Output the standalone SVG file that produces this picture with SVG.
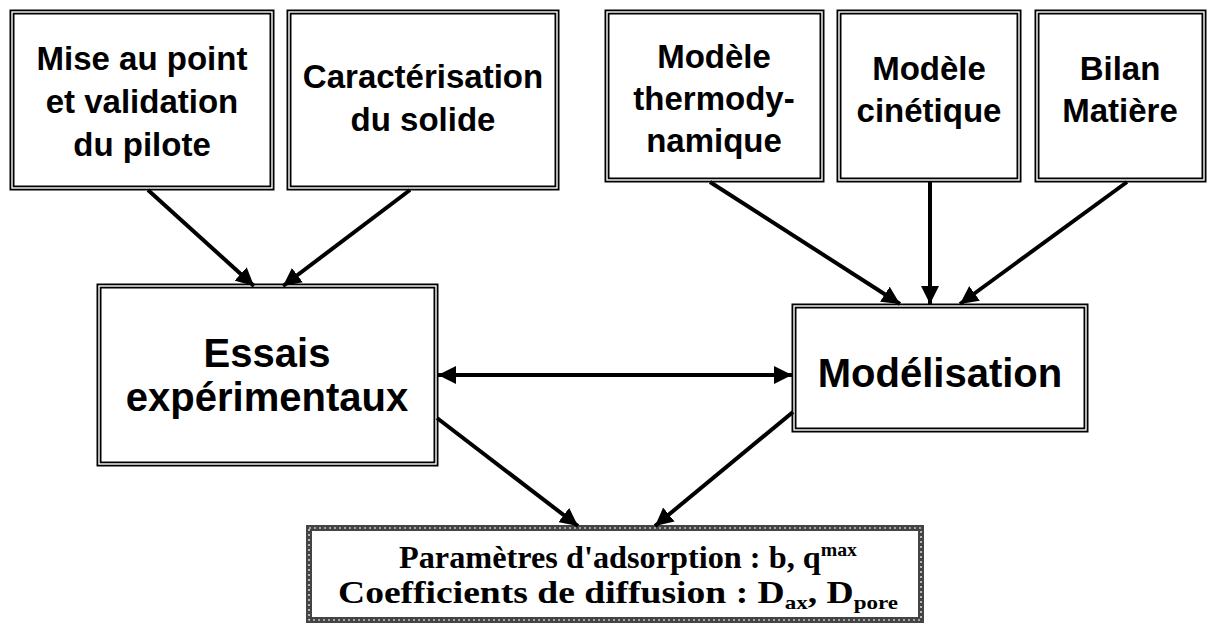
<svg xmlns="http://www.w3.org/2000/svg" width="1209" height="631" viewBox="0 0 1209 631">
<defs>
<style>
.bo{fill:none;stroke:#000;stroke-width:5}
.bi{fill:none;stroke:#fff;stroke-width:1.4}
.t{font-family:"Liberation Sans",Arial,sans-serif;font-weight:bold;font-size:33px;text-anchor:middle;fill:#000}
.tb{font-family:"Liberation Sans",Arial,sans-serif;font-weight:bold;font-size:40px;text-anchor:middle;fill:#000}
.ts{font-family:"Liberation Serif","Times New Roman",serif;font-weight:bold;font-size:31px;fill:#000}
.c{stroke:#000;stroke-width:4;fill:none}
</style>
<marker id="ah" viewBox="0 0 10 10" refX="10" refY="5" markerWidth="4.5" markerHeight="4.5" orient="auto-start-reverse" markerUnits="strokeWidth">
<path d="M0,0 L10,5 L0,10 z" fill="#000"/>
</marker>
</defs>
<rect width="1209" height="631" fill="#fff"/>
<g id="n1">
<rect class="bo" x="12" y="12" width="260" height="176"/><rect class="bi" x="12" y="12" width="260" height="176"/>
<text class="t" x="142" y="70">Mise au point</text>
<text class="t" x="142" y="113">et validation</text>
<text class="t" x="142" y="156">du pilote</text>
</g>
<g id="n2">
<rect class="bo" x="289" y="12" width="268" height="176"/><rect class="bi" x="289" y="12" width="268" height="176"/>
<text class="t" x="423" y="88">Caractérisation</text>
<text class="t" x="423" y="131">du solide</text>
</g>
<g id="n3">
<rect class="bo" x="607" y="12" width="215" height="168"/><rect class="bi" x="607" y="12" width="215" height="168"/>
<text class="t" x="714" y="68">Modèle</text>
<text class="t" x="714" y="110">thermody-</text>
<text class="t" x="714" y="152">namique</text>
</g>
<g id="n4">
<rect class="bo" x="839" y="12" width="180" height="168"/><rect class="bi" x="839" y="12" width="180" height="168"/>
<text class="t" x="929" y="80">Modèle</text>
<text class="t" x="929" y="122">cinétique</text>
</g>
<g id="n5">
<rect class="bo" x="1037" y="12" width="167" height="168"/><rect class="bi" x="1037" y="12" width="167" height="168"/>
<text class="t" x="1120" y="80">Bilan</text>
<text class="t" x="1120" y="122">Matière</text>
</g>
<g id="n6">
<rect class="bo" x="99" y="286" width="337" height="178"/><rect class="bi" x="99" y="286" width="337" height="178"/>
<text class="tb" x="267" y="367">Essais</text>
<text class="tb" x="267" y="411">expérimentaux</text>
</g>
<g id="n7">
<rect class="bo" x="794" y="306" width="292" height="124"/><rect class="bi" x="794" y="306" width="292" height="124"/>
<text class="tb" x="940" y="387">Modélisation</text>
</g>
<g id="n8">
<rect x="309" y="528" width="612" height="92" fill="none" stroke="#444" stroke-width="6"/>
<rect x="309" y="528" width="612" height="92" fill="none" stroke="#fff" stroke-width="1.2" stroke-dasharray="2 3"/>
<text class="ts" x="399" y="568" textLength="458" lengthAdjust="spacingAndGlyphs">Paramètres d'adsorption : b, q<tspan font-size="19" dy="-12">max</tspan></text>
<text class="ts" x="338" y="603" textLength="560" lengthAdjust="spacingAndGlyphs">Coefficients de diffusion : D<tspan font-size="19" dy="6">ax</tspan><tspan dy="-6">, D</tspan><tspan font-size="19" dy="6">pore</tspan></text>
</g>
<g id="connectors">
<line class="c" x1="148" y1="190" x2="254" y2="286" marker-end="url(#ah)"/>
<line class="c" x1="410" y1="190" x2="283" y2="286" marker-end="url(#ah)"/>
<line class="c" x1="438" y1="375" x2="792" y2="375" marker-start="url(#ah)" marker-end="url(#ah)"/>
<line class="c" x1="710" y1="182" x2="900" y2="304" marker-end="url(#ah)"/>
<line class="c" x1="930" y1="182" x2="930" y2="304" marker-end="url(#ah)"/>
<line class="c" x1="1127" y1="182" x2="960" y2="304" marker-end="url(#ah)"/>
<line class="c" x1="437" y1="418" x2="578" y2="526" marker-end="url(#ah)"/>
<line class="c" x1="793" y1="412" x2="655" y2="526" marker-end="url(#ah)"/>
</g>
</svg>
